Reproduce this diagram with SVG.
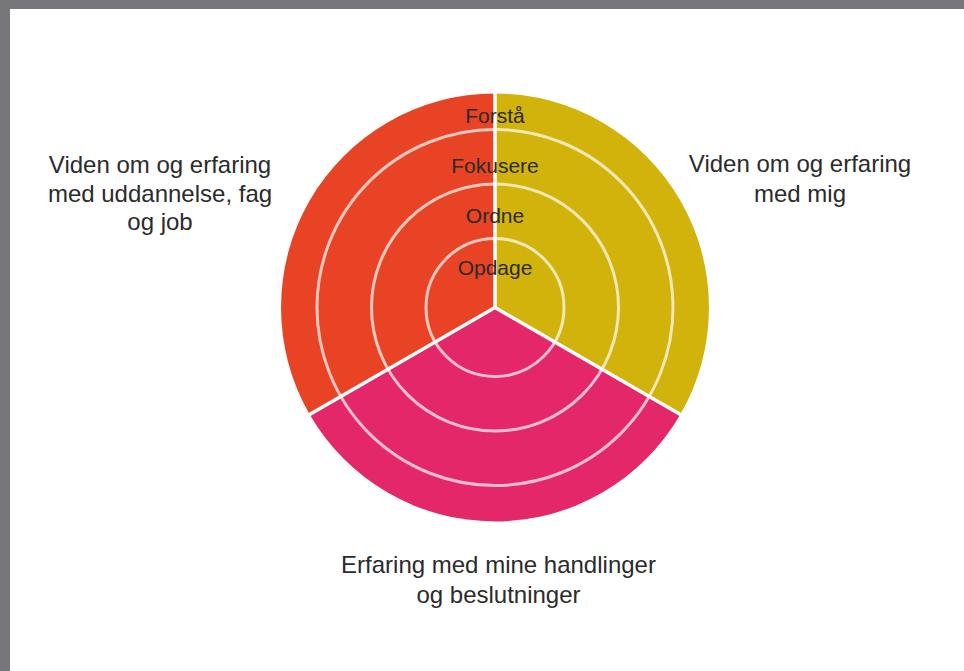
<svg xmlns="http://www.w3.org/2000/svg" width="964" height="671" viewBox="0 0 964 671">
<style>
.ring{fill:none;stroke:#ffffff;stroke-opacity:0.7;stroke-width:3}
.sep{stroke:#ffffff;stroke-width:3.5;fill:none}
.lvl{font-family:"Liberation Sans",Arial,sans-serif;font-size:21px;fill:#2b2b2b;text-anchor:middle}
.cap{font-family:"Liberation Sans",Arial,sans-serif;font-size:24px;fill:#2b2b2b;text-anchor:middle}
</style>
<rect x="0" y="0" width="964" height="671" fill="#76767b"/>
<rect x="10" y="9" width="954" height="662" fill="#ffffff"/>
<g id="sector-uddannelse">
<path d="M495,307.5 L309.7,414.5 A214,214 0 0 1 495,93.5 Z" fill="#e84324"/>
</g>
<g id="sector-mig">
<path d="M495,307.5 L495,93.5 A214,214 0 0 1 680.3,414.5 Z" fill="#d1b30c"/>
</g>
<g id="sector-handlinger">
<path d="M495,307.5 L680.3,414.5 A214,214 0 0 1 309.7,414.5 Z" fill="#e42768"/>
</g>
<g id="rings">
<circle class="ring" cx="495" cy="307.5" r="69"/>
<circle class="ring" cx="495" cy="307.5" r="123.5"/>
<circle class="ring" cx="495" cy="307.5" r="178"/>
</g>
<g id="connectors">
<line class="sep" x1="495" y1="307.5" x2="495" y2="90"/>
<line class="sep" x1="495" y1="307.5" x2="683" y2="416"/>
<line class="sep" x1="495" y1="307.5" x2="307" y2="416"/>
</g>
<g id="levels">
<text class="lvl" x="495" y="122.5">Forstå</text>
<text class="lvl" x="495" y="172.5">Fokusere</text>
<text class="lvl" x="495" y="223">Ordne</text>
<text class="lvl" x="495" y="275">Opdage</text>
</g>
<g id="label-uddannelse">
<text class="cap" x="160" y="172.5">Viden om og erfaring</text>
<text class="cap" x="160" y="202">med uddannelse, fag</text>
<text class="cap" x="160" y="229.5">og job</text>
</g>
<g id="label-mig">
<text class="cap" x="800" y="172">Viden om og erfaring</text>
<text class="cap" x="800" y="202">med mig</text>
</g>
<g id="label-handlinger">
<text class="cap" x="498.5" y="572.5">Erfaring med mine handlinger</text>
<text class="cap" x="498.5" y="602.5">og beslutninger</text>
</g>
</svg>
